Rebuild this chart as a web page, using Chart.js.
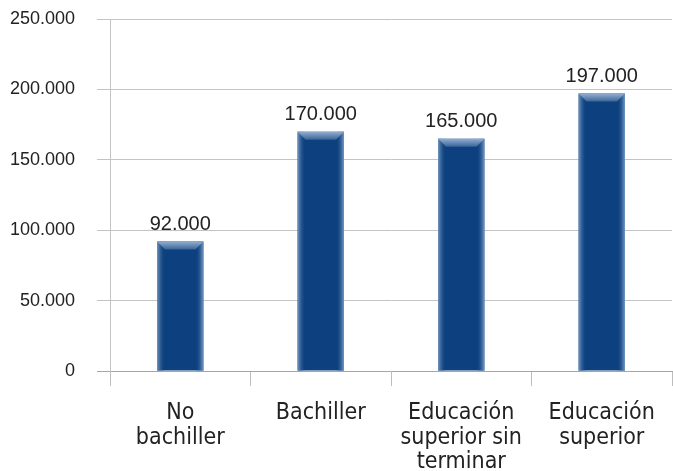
<!DOCTYPE html>
<html>
<head>
<meta charset="utf-8">
<script src="https://cdn.jsdelivr.net/npm/chart.js@4"></script>
<style>
  html, body { margin: 0; padding: 0; background: #fff; }
  #wrap { width: 673px; height: 471px; }
</style>
</head>
<body>
<div id="wrap"><canvas id="myChart"></canvas></div>
<script>
const categories = [["No", "bachiller"], "Bachiller", ["Educación", "superior sin", "terminar"], ["Educación", "superior"]]
const values = [92000, 170000, 165000, 197000]
const yTicks = [0, 50000, 100000, 150000, 200000, 250000]

function formatNumber(n) {
  return n.toString().replace(/\B(?=(\d{3})+(?!\d))/g, ".")
}

// lighter sides and a bevelled top drawn over each bar
const barShading = {
  id: "barShading",
  afterDatasetsDraw(chart) {
    const ctx = chart.ctx
    const bottom = chart.chartArea.bottom
    chart.getDatasetMeta(0).data.forEach((bar) => {
      const left = bar.x - bar.width / 2
      const right = bar.x + bar.width / 2
      const top = bar.y
      const s = 8
      ctx.save()

      let lg = ctx.createLinearGradient(left, 0, left + s, 0)
      lg.addColorStop(0, "rgba(120,155,195,0.95)")
      lg.addColorStop(1, "rgba(12,64,126,0)")
      ctx.fillStyle = lg
      ctx.fillRect(left, top, s, bottom - top)

      let rg = ctx.createLinearGradient(right - s, 0, right, 0)
      rg.addColorStop(0, "rgba(12,64,126,0)")
      rg.addColorStop(1, "rgba(125,160,200,0.95)")
      ctx.fillStyle = rg
      ctx.fillRect(right - s, top, s, bottom - top)

      const grad = ctx.createLinearGradient(0, top, 0, top + s)
      grad.addColorStop(0, "#93afd0")
      grad.addColorStop(1, "#3a6598")
      ctx.beginPath()
      ctx.moveTo(left, top)
      ctx.lineTo(right, top)
      ctx.lineTo(right - s, top + s)
      ctx.lineTo(left + s, top + s)
      ctx.closePath()
      ctx.fillStyle = grad
      ctx.fill()
      ctx.restore()
    })
  }
}

const valueLabels = {
  id: "valueLabels",
  afterDatasetsDraw(chart) {
    const ctx = chart.ctx
    ctx.save()
    ctx.font = "20px 'Liberation Sans', Arial, sans-serif"
    ctx.fillStyle = "#222"
    ctx.textAlign = "center"
    ctx.textBaseline = "alphabetic"
    chart.getDatasetMeta(0).data.forEach((bar, i) => {
      ctx.fillText(formatNumber(values[i]), bar.x, bar.y - 11.5)
    })
    ctx.restore()
  }
}

new Chart(document.getElementById("myChart"), {
  type: "bar",
  data: {
    labels: categories,
    datasets: [
      {
        data: values,
        backgroundColor: "#0c407e",
        borderWidth: 0,
        barPercentage: 0.66,
        categoryPercentage: 0.5,
      },
    ],
  },
  options: {
    responsive: true,
    maintainAspectRatio: false,
    animation: false,
    layout: { padding: { top: 19, right: 1, left: 0, bottom: 0 } },
    plugins: {
      legend: { display: false },
      tooltip: { enabled: false },
    },
    scales: {
      x: {
        grid: {
          drawOnChartArea: false,
          offset: true,
          tickLength: 15,
          color: "#bdbdbd",
        },
        border: { display: true, color: "#a6a6a6", dash: [3, 2] },
        ticks: {
          color: "#222",
          padding: 15,
          maxRotation: 0,
          autoSkip: false,
          font: { family: "'DejaVu Sans Condensed', 'Open Sans', sans-serif", size: 23, lineHeight: 1.065 },
        },
        afterFit: (scale) => {
          scale.height = 100
          scale.paddingLeft = 0
          scale.paddingRight = 0
        },
      },
      y: {
        min: 0,
        max: 250000,
        afterBuildTicks: (scale) => { scale.ticks = yTicks.map((v) => ({ value: v })) },
        grid: {
          color: (c) => (c.tick && c.tick.value === 0 ? "rgba(0,0,0,0)" : "#c4c4c4"),
          tickColor: (c) => (c.tick && c.tick.value === 0 ? "#a6a6a6" : "#c4c4c4"),
          tickLength: 13,
        },
        border: { display: true, color: "#c4c4c4" },
        ticks: {
          color: "#222",
          padding: 22,
          font: { family: "'Liberation Sans', Arial, sans-serif", size: 18 },
          callback: (v) => formatNumber(v),
        },
        afterFit: (scale) => {
          scale.width = 110
          scale.paddingTop = 0
          scale.paddingBottom = 0
        },
      },
    },
  },
  plugins: [barShading, valueLabels],
})
</script>
</body>
</html>
